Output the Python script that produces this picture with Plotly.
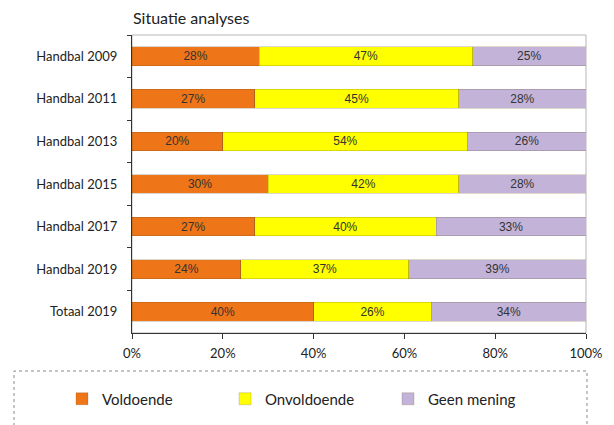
import plotly.graph_objects as go

categories = ["Handbal 2009", "Handbal 2011", "Handbal 2013", "Handbal 2015",
              "Handbal 2017", "Handbal 2019", "Totaal 2019"]
voldoende = [28, 27, 20, 30, 27, 24, 40]
onvoldoende = [47, 45, 54, 42, 40, 37, 26]
geen_mening = [25, 28, 26, 28, 33, 39, 34]

series = [
    ("Voldoende", voldoende, "#EE7518"),
    ("Onvoldoende", onvoldoende, "#FFFF00"),
    ("Geen mening", geen_mening, "#C3B3D8"),
]

fig = go.Figure()
for name, vals, col in series:
    fig.add_trace(go.Bar(
        name=name, y=categories, x=vals, orientation="h",
        marker=dict(color=col, line=dict(color="rgba(90,70,20,0.35)", width=0.6)),
        text=[f"{v}%" for v in vals], textposition="inside",
        insidetextanchor="middle", textangle=0, constraintext="none",
        textfont=dict(family="Liberation Sans Narrow, Arial Narrow, sans-serif",
                      size=12, color="#333333"),
        hoverinfo="x+y",
    ))

W, H = 614, 425
L, R, T, B = 132, 28, 35, 92
PW, PH = W - L - R, H - T - B
fig.update_layout(
    width=W, height=H,
    margin=dict(l=L, r=R, t=T, b=B, pad=0, autoexpand=False),
    barmode="stack", bargap=0.56,
    paper_bgcolor="white", plot_bgcolor="white",
    font=dict(family="Lato, Open Sans, sans-serif", color="#222"),
    title=dict(text="Situatie analyses", x=133 / W, xanchor="left",
               y=1 - 18 / H, yanchor="middle",
               font=dict(size=16, family="Lato, sans-serif", color="#222")),
    showlegend=True,
    legend=dict(orientation="h", traceorder="normal",
                x=(62 - L) / PW, xanchor="left",
                y=-(399 - (H - B)) / PH, yanchor="middle",
                entrywidth=118, entrywidthmode="pixels",
                font=dict(size=15, family="Lato, sans-serif", color="#222"),
                bgcolor="rgba(0,0,0,0)", itemclick=False),
    xaxis=dict(range=[0, 100], dtick=20, ticksuffix="%", showgrid=False,
               zeroline=False, showline=True, linecolor="#333", linewidth=1,
               ticks="outside", ticklen=5, tickcolor="#333", automargin=False,
               ticklabelstandoff=3,
               tickfont=dict(size=13, family="Lato, sans-serif", color="#222")),
    yaxis=dict(autorange="reversed", showgrid=False, showline=True,
               linecolor="#333", linewidth=1, ticks="outside", ticklen=4,
               tickcolor="#333", tickson="boundaries", automargin=False,
               ticklabelstandoff=11,
               tickfont=dict(size=13, family="Lato, sans-serif", color="#222")),
    shapes=[
        dict(type="rect", xref="paper", yref="paper", x0=0, x1=1, y0=0, y1=1,
             line=dict(color="#b5b5b5", width=1), layer="below"),
        dict(type="rect", xref="paper", yref="paper",
             x0=(14 - L) / PW, x1=(587 - L) / PW,
             y0=-(H - (H - B) + 20) / PH, y1=-(371 - (H - B)) / PH,
             line=dict(color="#8a8a8a", width=1, dash="dot")),
    ],
)

fig.write_html("out.html", config={"displayModeBar": False},
               post_script="document.body.style.margin='0';document.body.style.overflow='hidden';")
